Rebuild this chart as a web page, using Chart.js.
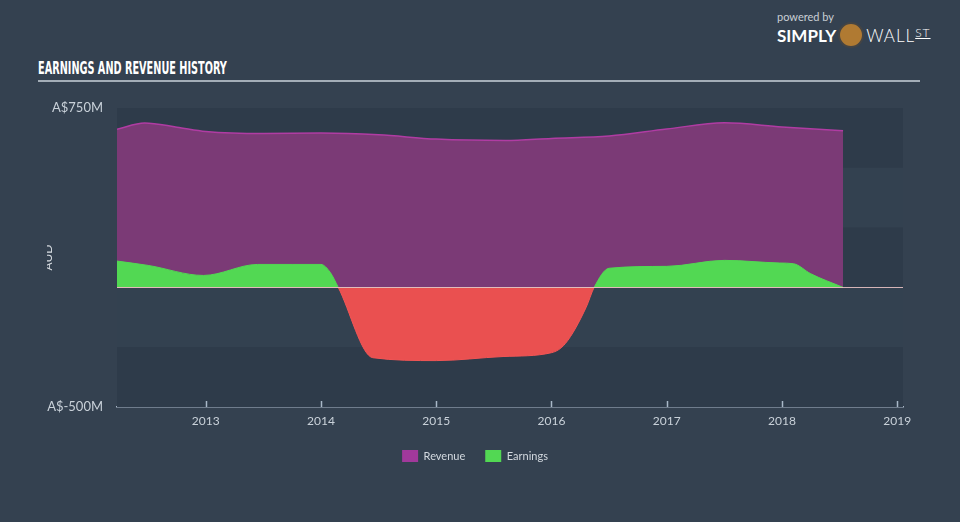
<!DOCTYPE html>
<html>
<head>
<meta charset="utf-8">
<script src="https://cdn.jsdelivr.net/npm/chart.js@4"></script>
<style>
  body { margin: 0; width: 960px; height: 522px; background: #344150; position: relative; overflow: hidden; font-family: Lato, 'Open Sans', sans-serif; }
  #title { position: absolute; left: 38px; top: 57px; color: #fff; font: bold 18px 'Liberation Sans Narrow', 'DejaVu Sans Condensed', sans-serif; white-space: nowrap; transform: scaleX(0.6); transform-origin: left top; }
  #rule { position: absolute; left: 38px; top: 80px; width: 882px; height: 2px; background: #a3adb7; }
  #logo { position: absolute; left: 777px; top: 11px; color: #fff; }
  #logo .pw { font-size: 11px; color: #c9cfd5; line-height: 11px; }
  #logo .sw { font-size: 17px; line-height: 20px; white-space: nowrap; }
  #logo .bull { display: inline-block; width: 26px; height: 26px; border-radius: 50%; background: #b07a32; vertical-align: -6px; margin: 0 2px; border: 2px solid #444; box-sizing: border-box; }
  #wrap { position: absolute; left: 47px; top: 90px; width: 873px; height: 392px; }
</style>
</head>
<body>
<div id="title">EARNINGS AND REVENUE HISTORY</div>
<div id="rule"></div>
<div id="logo"><div class="pw">powered by</div><div class="sw"><b>SIMPLY</b><span class="bull"></span><span style="font-weight:300;letter-spacing:1px">WALL<u style="font-size:12px;vertical-align:5px">ST</u></span></div></div>
<div id="wrap"><canvas id="earningsChart"></canvas></div>
<script>
// values in A$ millions, x = decimal year
const revenueDates = [2012.23, 2012.47, 2012.75, 2013.0, 2013.5, 2014.0, 2014.5, 2015.0, 2015.6, 2016.0, 2016.5, 2017.0, 2017.5, 2018.0, 2018.53];
const revenue = [661, 687, 670, 652, 643, 645, 638, 620, 614, 623, 633, 662, 688, 671, 655];
const earningsDates = [2012.23, 2012.5, 2012.98, 2013.45, 2013.75, 2014.0, 2014.08, 2014.15, 2014.45, 2015.0, 2015.58, 2016.0, 2016.12, 2016.3, 2016.37, 2016.5, 2017.0, 2017.5, 2017.98, 2018.1, 2018.25, 2018.53];
const earnings = [110, 92, 50, 96, 96, 96, 63, 0, -294, -306, -289, -273, -235, -84, 0, 80, 88, 113, 102, 99, 57, 0];
const yearTicks = [2013, 2014, 2015, 2016, 2017, 2018, 2019];
const valueTicks = [-500, -250, 0, 250, 500, 750];
const legendColors = ['#a1399b', '#52d853'];

const axisColor = '#a9b8c8';

const bands = {
    id: 'bands',
    beforeDatasetsDraw(chart) {
        const { ctx, chartArea: a, scales: { y } } = chart;
        ctx.save();
        for (let i = 0; i < valueTicks.length - 1; i++) {
            const top = y.getPixelForValue(valueTicks[valueTicks.length - 1 - i]);
            const bot = y.getPixelForValue(valueTicks[valueTicks.length - 2 - i]);
            ctx.fillStyle = i % 2 === 0 ? '#2e3b4a' : '#334150';
            ctx.fillRect(a.left, top, a.right - a.left, bot - top);
        }
        ctx.restore();
    },
    afterDatasetsDraw(chart) {
        const { ctx, chartArea: a, scales: { x, y } } = chart;
        ctx.save();
        const y0 = Math.round(y.getPixelForValue(0)) + 0.5;
        ctx.strokeStyle = 'rgba(255,210,210,0.8)';
        ctx.lineWidth = 1;
        ctx.beginPath();
        ctx.moveTo(a.left, y0);
        ctx.lineTo(a.right, y0);
        ctx.stroke();
        // axis tick marks pointing up
        ctx.strokeStyle = axisColor;
        ctx.lineWidth = 1.5;
        yearTicks.forEach(v => {
            const px = Math.round(x.getPixelForValue(v)) + 0.5;
            ctx.beginPath();
            ctx.moveTo(px, a.bottom);
            ctx.lineTo(px, a.bottom - 6);
            ctx.stroke();
        });
        // clipped axis title
        ctx.translate(1, (a.top + a.bottom) / 2);
        ctx.rotate(-Math.PI / 2);
        ctx.fillStyle = '#d8dde2';
        ctx.font = '12px Lato, sans-serif';
        ctx.textAlign = 'center';
        ctx.textBaseline = 'middle';
        ctx.fillText('AUD', 0, 0);
        ctx.restore();
    }
};

const ctx = document.getElementById('earningsChart').getContext('2d');
const earningsChart = new Chart(ctx, {
    type: 'line',
    data: {
        datasets: [{
            label: 'Revenue',
            data: revenueDates.map((d, i) => ({ x: d, y: revenue[i] })),
            borderColor: '#b03ca3',
            backgroundColor: '#7b3a76',
            borderWidth: 1.5,
            fill: 'origin',
            pointRadius: 0,
            cubicInterpolationMode: 'monotone',
            order: 2
        }, {
            label: 'Earnings',
            data: earningsDates.map((d, i) => ({ x: d, y: earnings[i] })),
            borderColor: '#52d853',
            backgroundColor: '#52d853',
            borderWidth: 1,
            segment: {
                borderColor: c => (c.p0.parsed.y < 0 || c.p1.parsed.y < 0) ? '#f25555' : '#52d853'
            },
            fill: { target: 'origin', above: '#52d853', below: '#ea5050' },
            pointRadius: 0,
            cubicInterpolationMode: 'monotone',
            order: 1
        }]
    },
    options: {
        responsive: true,
        maintainAspectRatio: false,
        animation: false,
        layout: { padding: { top: 18, right: 17, bottom: 10, left: 0 } },
        scales: {
            x: {
                type: 'linear',
                min: 2012.23,
                max: 2019.05,
                afterBuildTicks: s => { s.ticks = yearTicks.map(v => ({ value: v })); },
                afterFit: s => { s.height = 23; s.paddingLeft = 0; s.paddingRight = 0; },
                grid: { display: false, drawTicks: false },
                border: { color: axisColor, width: 1.5 },
                ticks: {
                    color: '#c9d1d9',
                    font: { size: 12, family: 'Lato' },
                    padding: 7,
                    maxRotation: 0,
                    callback: v => String(v)
                }
            },
            y: {
                min: -500,
                max: 750,
                afterBuildTicks: s => { s.ticks = valueTicks.map(v => ({ value: v })); },
                afterFit: s => { s.width = 70; s.paddingTop = 0; s.paddingBottom = 0; },
                grid: { display: false, drawTicks: false },
                border: { display: false },
                ticks: {
                    color: '#c9d1d9',
                    font: { size: 13, family: 'Lato' },
                    padding: 14,
                    callback: v => (v === 750 || v === -500) ? `A$${v}M` : ''
                }
            }
        },
        plugins: {
            legend: {
                display: true,
                position: 'bottom',
                labels: {
                    color: '#d3d9df',
                    font: { size: 11, family: 'Lato' },
                    boxWidth: 16,
                    boxHeight: 12,
                    padding: 20,
                    sort: (a, b) => a.datasetIndex - b.datasetIndex,
                    generateLabels: chart => Chart.defaults.plugins.legend.labels.generateLabels(chart).map(l => ({
                        ...l, fillStyle: legendColors[l.datasetIndex], strokeStyle: legendColors[l.datasetIndex], lineWidth: 0
                    }))
                }
            },
            tooltip: { enabled: false }
        }
    },
    plugins: [bands]
});
</script>
</body>
</html>
